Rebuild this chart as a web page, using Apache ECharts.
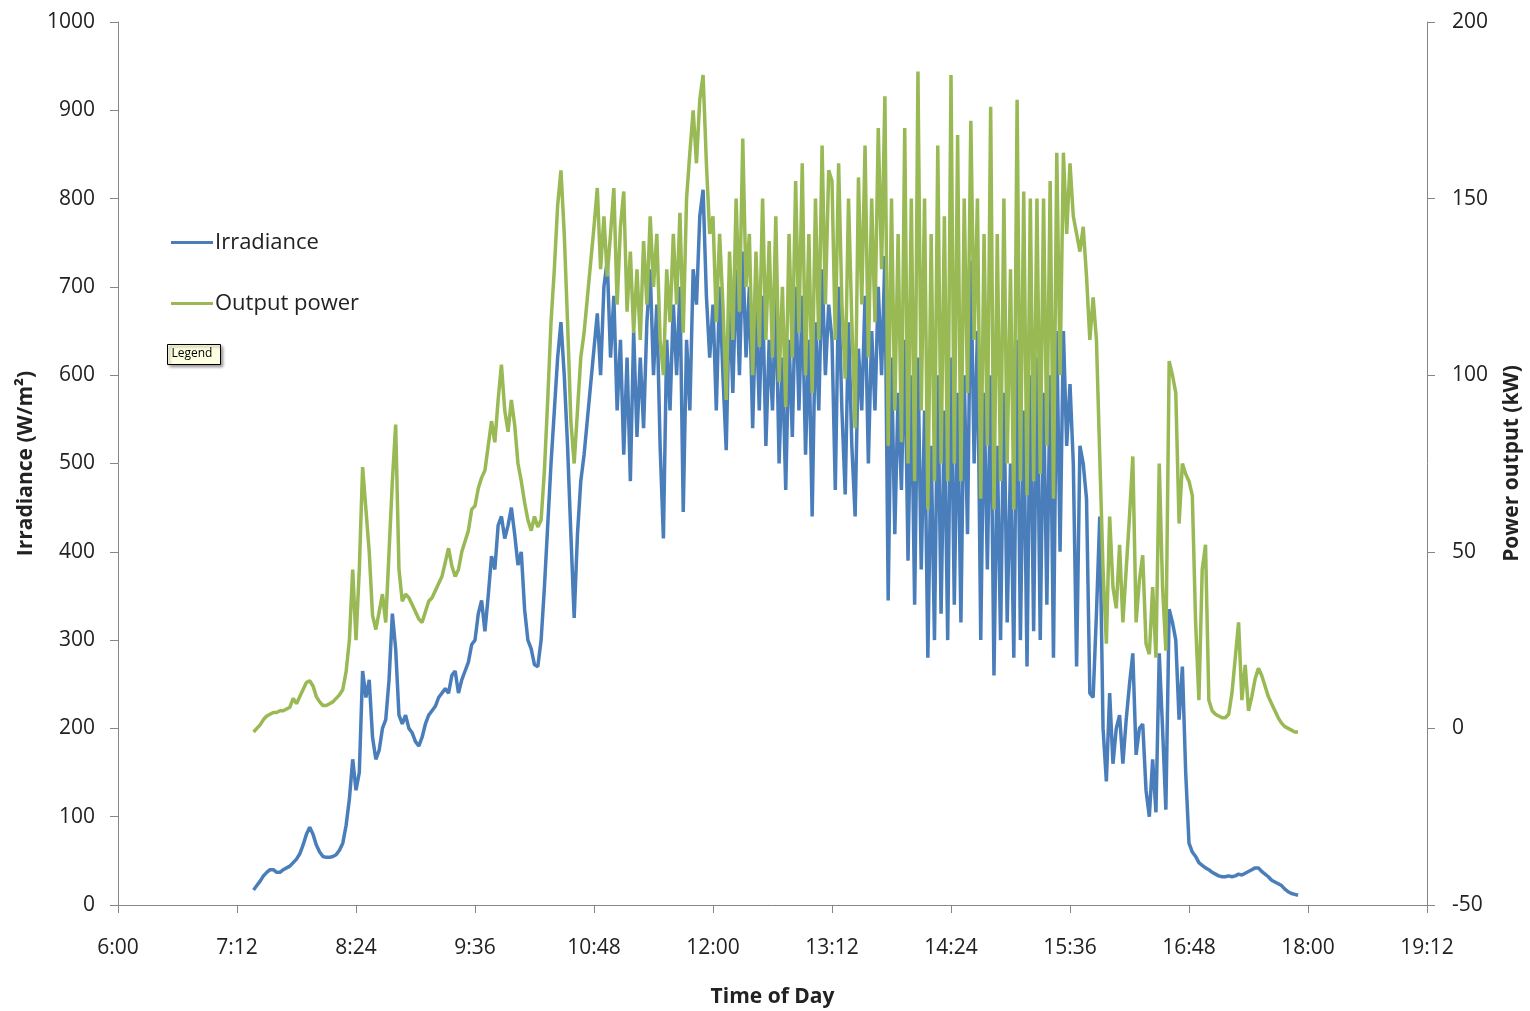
<!DOCTYPE html>
<html>
<head>
<meta charset="utf-8">
<script src="https://cdn.jsdelivr.net/npm/echarts@6/dist/echarts.min.js"></script>
<style>
  html, body { margin: 0; padding: 0; background: #fff; overflow: hidden; }
  #chart { width: 1530px; height: 1011px; }
</style>
</head>
<body>
<div id="chart"></div>
<script>
// sampling grid: minutes after midnight, one reading every 2 minutes from 7:22
const startMin = 442;
const stepMin = 2;

// x axis ticks (minutes): 6:00 ... 19:12
const xMin = 360, xMax = 1152, xStep = 72;

// Irradiance (W/m2)
const irradiance = [
  17,22,27,33,37, 40,40,37,37,40, 42,44,48,52,58, 68,80,88,80,68, 60,55,54,54,55, 57,62,70,90,120, 165,
  130,150,265,235,255, 190,165,175,200,210, 255,330,290,215,205, 215,200,195,185,180, 190,205,215,220,225, 235,240,245,240,260, 265,240,255,265,275, 295,
  300,330,345,310,350, 395,380,430,440,415, 430,450,420,385,400, 335,300,290,272,270, 300,360,430,500,560, 620,660,600,520,420, 325,420,480,510,550, 590,
  630,670,600,700,730, 620,690,560,640,510, 620,480,650,530,620, 540,660,720,600,680, 520,415,640,560,680, 600,700,445,640,560, 720,680,780,810,690, 620,
  680,560,700,600,515, 690,580,720,600,740, 620,700,540,680,560, 690,520,640,560,690, 500,620,470,640,530, 700,560,690,510,640, 440,660,560,720,600, 680,
  640,470,700,560,465, 660,520,440,630,560, 690,500,650,560,700, 600,735,345,620,420, 580,470,640,390,600, 340,620,380,560,280, 520,300,600,330,560, 300,
  620,340,580,320,600, 420,730,500,650,300, 580,380,600,260,520, 300,580,320,500,280, 640,300,560,270,600, 310,620,300,580,340, 600,280,650,400,650, 520,
  590,500,270,520,500, 460,240,235,330,440, 200,140,240,160,200, 215,160,210,250,285, 170,200,205,130,100, 165,105,285,200,108, 335,320,300,210,270, 150,
  70,60,55,48,45, 42,40,37,35,33, 32,32,33,32,33, 35,34,36,38,40, 42,42,38,35,32, 28,26,24,22,18, 15,13,12,11
];

// Output power (kW)
const outputPower = [
  -1,0,1,2.5,3.5, 4,4.5,4.5,5,5, 5.5,6,8.5,7,9, 11,13,13.5,12,9, 7.5,6.5,6.5,7,7.5, 8.5,9.5,11,16,25, 45,
  25,45,74,62,50, 32,28,33,38,30, 50,70,86,45,36, 38,37,35,33,31, 30,33,36,37,39, 41,43,47,51,46, 43,45,50,53,56, 62,
  63,68,71,73,80, 87,81,93,103,90, 84,93,86,75,70, 64,59,56,60,57, 59,73,93,115,130, 148,158,140,115,87, 75,90,105,112,122, 132,
  142,153,130,145,128, 140,153,120,142,152, 118,135,112,130,110, 138,120,145,125,140, 110,100,130,115,140, 120,146,112,150,163, 175,160,178,185,160, 140,
  145,115,140,120,93, 135,110,150,118,167, 125,140,100,135,108, 150,110,138,105,145, 98,125,91,140,105, 155,112,160,100,140, 95,150,110,165,120, 158,
  155,110,160,120,99, 150,115,85,156,120, 165,105,150,115,170, 130,179,80,150,90, 140,81,170,75,150, 70,186,90,150,62, 140,70,165,75,145, 70,
  185,75,168,70,150, 95,172,110,150,65, 140,80,176,62,140, 70,150,75,130,62, 178,70,152,66,150, 70,150,72,150,80, 155,65,163,100,163, 140,
  160,145,140,135,142, 128,110,122,110,77, 45,24,60,40,34, 52,30,45,60,77, 30,42,49,24,21, 40,20,75,40,22, 104,100,95,58,75, 72,
  70,66,30,8,45, 52,8,5,4,3.5, 3,3,4,10,20, 30,8,18,5,9, 14,17,15,12,9, 7,5,3,1.5,0.5, 0,-0.5,-1,-1
];

const times = irradiance.map((v, i) => startMin + i * stepMin);
const irrData = times.map((t, i) => [t, irradiance[i]]);
const powData = times.map((t, i) => [t, outputPower[i]]);

function fmtTime(m) {
    const h = Math.floor(m / 60);
    const mm = m % 60;
    return h + ':' + (mm < 10 ? '0' + mm : mm);
}

const font = '"Open Sans", "Noto Sans", sans-serif';
const axisColor = '#868686';

const option = {
    animation: false,
    backgroundColor: '#fff',
    textStyle: { fontFamily: font },
    grid: {
        left: 118,
        right: 103,
        top: 22,
        bottom: 106,
        containLabel: false,
        outerBoundsMode: 'none'
    },
    legend: {
        orient: 'vertical',
        left: 166,
        top: 225,
        itemWidth: 42,
        itemHeight: 3,
        itemGap: 36,
        icon: 'rect',
        textStyle: {
            fontFamily: font,
            fontSize: 22,
            color: '#222',
            lineHeight: 25,
            padding: [0, 0, 0, -3]
        },
        data: ['Irradiance', 'Output power']
    },
    xAxis: {
        type: 'value',
        min: xMin,
        max: xMax,
        interval: xStep,
        name: 'Time of Day',
        nameLocation: 'middle',
        nameGap: 82,
        nameTextStyle: { fontFamily: font, fontSize: 21, fontWeight: 'bold', color: '#222' },
        axisLine: { show: true, onZero: false, lineStyle: { color: axisColor, width: 1 } },
        axisTick: { show: true, length: 8, inside: false, lineStyle: { color: axisColor } },
        axisLabel: {
            margin: 33,
            fontSize: 21,
            color: '#222',
            formatter: fmtTime
        },
        splitLine: { show: false }
    },
    yAxis: [
        {
            type: 'value',
            min: 0,
            max: 1000,
            interval: 100,
            name: 'Irradiance (W/m²)',
            nameLocation: 'middle',
            nameRotate: 90,
            nameGap: 79,
            nameTextStyle: { fontFamily: font, fontSize: 21, fontWeight: 'bold', color: '#222' },
            axisLine: { show: true, lineStyle: { color: axisColor, width: 1 } },
            axisTick: { show: true, length: 8, lineStyle: { color: axisColor } },
            axisLabel: { margin: 23, fontSize: 21, color: '#222', formatter: v => String(v) },
            splitLine: { show: false }
        },
        {
            type: 'value',
            min: -50,
            max: 200,
            interval: 50,
            position: 'right',
            name: 'Power output (kW)',
            nameLocation: 'middle',
            nameRotate: 90,
            nameGap: 75,
            nameTextStyle: { fontFamily: font, fontSize: 21, fontWeight: 'bold', color: '#222' },
            axisLine: { show: true, lineStyle: { color: axisColor, width: 1 } },
            axisTick: { show: true, length: 8, lineStyle: { color: axisColor } },
            axisLabel: { margin: 25, fontSize: 21, color: '#222', formatter: v => String(v) },
            splitLine: { show: false }
        }
    ],
    series: [
        {
            name: 'Irradiance',
            type: 'line',
            yAxisIndex: 0,
            data: irrData,
            showSymbol: false,
            symbol: 'none',
            color: '#4a7ebb',
            lineStyle: { width: 3.5, color: '#4a7ebb' },
            z: 2
        },
        {
            name: 'Output power',
            type: 'line',
            yAxisIndex: 1,
            data: powData,
            showSymbol: false,
            symbol: 'none',
            color: '#98b954',
            lineStyle: { width: 3.5, color: '#98b954' },
            z: 3
        }
    ],
    graphic: [
        {
            type: 'group',
            left: 167,
            top: 344,
            children: [
                {
                    type: 'rect',
                    shape: { x: 0, y: 0, width: 53, height: 20 },
                    style: {
                        fill: '#ffffe1',
                        stroke: '#000',
                        lineWidth: 1,
                        shadowBlur: 3,
                        shadowOffsetX: 2,
                        shadowOffsetY: 2,
                        shadowColor: 'rgba(0,0,0,0.4)'
                    }
                },
                {
                    type: 'text',
                    x: 4,
                    y: 3,
                    style: { text: 'Legend', fontSize: 12, fontFamily: font, fill: '#000' }
                }
            ]
        }
    ]
};

const chart = echarts.init(document.getElementById('chart'));
chart.setOption(option);
</script>
</body>
</html>
